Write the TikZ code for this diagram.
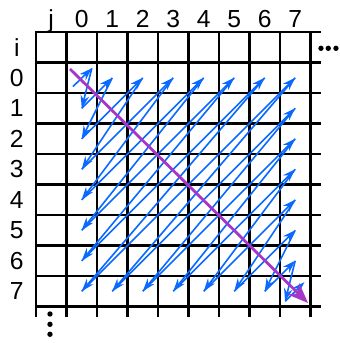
\documentclass[tikz,border=0pt]{standalone}
\usepackage{fontspec}
\setmainfont{Liberation Sans}
\usetikzlibrary{arrows.meta}
\definecolor{zigblue}{RGB}{10,105,255}
\definecolor{diagpurple}{RGB}{165,55,200}

\begin{document}
\begin{tikzpicture}[
    y=-1cm,
    gridline/.style={line width=2pt, line cap=rect, black},
    idx/.style={font=\fontsize{23}{25}\selectfont, inner sep=0pt},
    more/.style={circle, fill=black, inner sep=0pt, minimum size=5pt},
    zig/.style={draw=zigblue, line width=1.5pt, -{Stealth[length=12pt, width=8pt]}},
    maindiag/.style={draw=diagpurple, line width=2.6pt, -{Stealth[length=19pt, width=15pt]}}
]
    \useasboundingbox (-2.18,-2.05) rectangle (8.967,9.197);

    % Grid
    \foreach \k in {-1,...,8} {
        \draw[gridline] (\k,-1) -- (\k,8.3);
        \draw[gridline] (-1,\k) -- (8.31,\k);
    }

    % Indices
    \node[idx, anchor=base] (jlabel) at (-0.5,-1.154) {j};
    \node[idx] (ilabel) at (-1.63,-0.5) {i};
    \foreach \k in {0,...,7} {
        \node[idx, anchor=base] (col\k) at (\k+0.5,-1.154) {\k};
        \node[idx] (row\k) at (-1.63,\k+0.5) {\k};
    }

    % Continuation dots
    \node[more] (hdotA) at (8.344,-0.466) {};
    \node[more] (hdotB) at (8.584,-0.466) {};
    \node[more] (hdotC) at (8.836,-0.466) {};
    \node[more] (vdotA) at (-0.541,8.246) {};
    \node[more] (vdotB) at (-0.541,8.584) {};
    \node[more] (vdotC) at (-0.541,8.911) {};

    % Start and end of every anti-diagonal
    \coordinate (s0) at (0.21,0.79);
    \coordinate (e0) at (0.83,0.19);
    \foreach \d in {1,...,7} {
        \coordinate (s\d) at (0.5,\d+0.5);
        \coordinate (e\d) at (\d+0.5,0.5);
    }
    \foreach \d in {8,...,13} {
        \coordinate (s\d) at (\d-6.5,7.5);
        \coordinate (e\d) at (7.5,\d-6.5);
    }
    \coordinate (s14) at (7.17,7.83);
    \coordinate (e14) at (7.8,7.2);

    % Zigzag order
    \foreach \d [evaluate=\d as \n using int(\d+1)] in {0,...,13} {
        \draw[zig] (s\d) -- (e\d);
        \draw[zig] (e\d) -- (s\n);
    }
    \draw[zig] (s14) -- (e14);

    % Main diagonal
    \coordinate (diagfrom) at (0.115,0.213);
    \coordinate (diagto) at (7.92,7.885);
    \draw[maindiag] (diagfrom) -- (diagto);
\end{tikzpicture}
\end{document}
